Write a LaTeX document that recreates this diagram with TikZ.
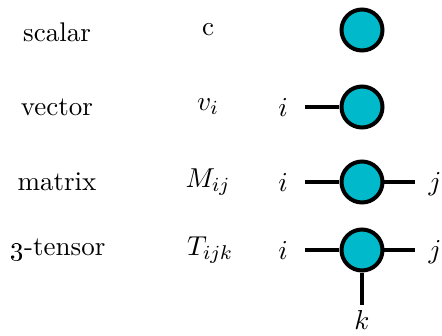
\documentclass[tikz,border=0pt]{standalone}
\usepackage{tikz}
\usetikzlibrary{positioning}
\definecolor{tcyan}{RGB}{0,186,204}
\tikzstyle{tnode}=[circle, draw, line width=1.6pt, fill=tcyan,
                   minimum size=16.4pt, inner sep=0pt]
\tikzstyle{leg}=[line width=1.6pt]

\begin{document}
\begin{tikzpicture}[x=0.4pt,y=0.4pt, every node/.style={font=\fontsize{10.8}{13}\selectfont}]
  \useasboundingbox (0,0) rectangle (442,-335);

  % Names in the left column
  \node (nscalar) at (57,-32) {scalar};
  \node (nvector) at (57,-107) {vector};
  \node (nmatrix) at (57,-182) {matrix};
  \node (ntensor) at (58,-250) {\oldstylenums{3}-tensor};

  % Index notation in the middle column
  \node (iscalar) at (208,-30) {c};
  \node (ivector) at (208,-107) {$v_i$};
  \node (imatrix) at (208,-182) {$M_{ij}$};
  \node (itensor) at (210,-250) {$T_{ijk}$};

  % Tensor nodes on the right
  \node[tnode] (t1) at (362,-30) {};
  \node[tnode] (t2) at (362,-107) {};
  \node[tnode] (t3) at (362,-182) {};
  \node[tnode] (t4) at (362,-250) {};

  % Free ends of the legs
  \coordinate (e2i) at (305,-107);
  \coordinate (e3i) at (305,-182);
  \coordinate (e3j) at (415,-182);
  \coordinate (e4i) at (305,-250);
  \coordinate (e4j) at (415,-250);
  \coordinate (e4k) at (362,-305);

  \draw[leg] (e2i) -- (t2);
  \draw[leg] (e3i) -- (t3);
  \draw[leg] (t3) -- (e3j);
  \draw[leg] (e4i) -- (t4);
  \draw[leg] (t4) -- (e4j);
  \draw[leg] (t4) -- (e4k);

  % Leg labels
  \node (l2i) at (283,-107) {$i$};
  \node (l3i) at (283,-182) {$i$};
  \node (l3j) at (435,-184) {$j$};
  \node (l4i) at (283,-250) {$i$};
  \node (l4j) at (435,-252) {$j$};
  \node (l4k) at (362,-320) {$k$};
\end{tikzpicture}
\end{document}
